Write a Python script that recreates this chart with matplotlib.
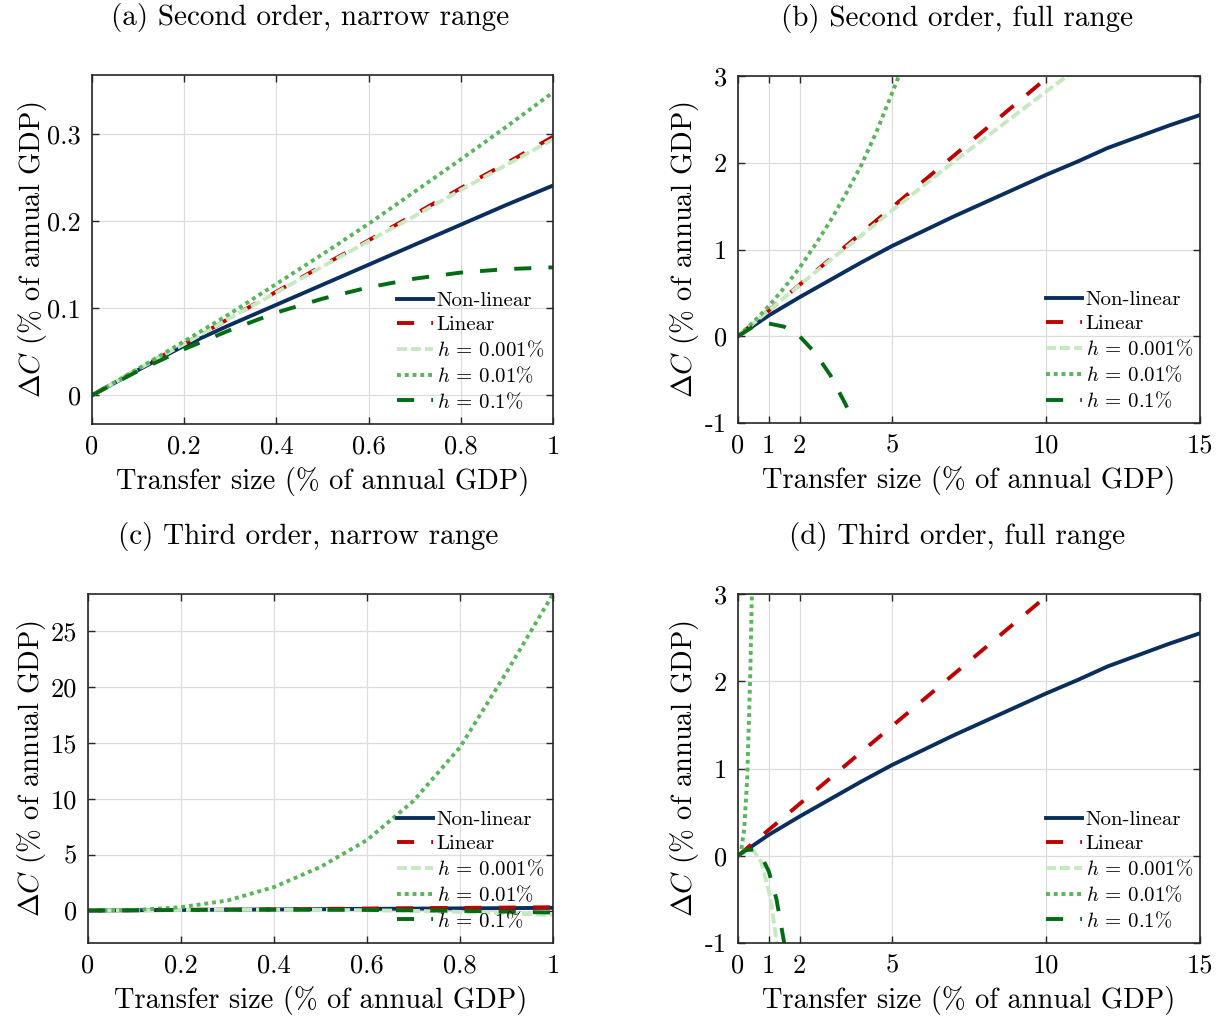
import matplotlib
matplotlib.use("Agg")
import matplotlib.pyplot as plt

plt.rcParams['font.family'] = 'serif'
plt.rcParams['font.serif'] = ['cmr10']
plt.rcParams['mathtext.fontset'] = 'cm'
plt.rcParams['axes.unicode_minus'] = False
plt.rcParams['axes.formatter.use_mathtext'] = True

# transfer grids (% of annual GDP)
x_narrow = [0, 0.1, 0.2, 0.3, 0.4, 0.5, 0.6, 0.7, 0.8, 0.9, 1.0]
x_full = [0, 1, 2, 3, 4, 5, 6, 7, 8, 9, 10, 11, 12, 13, 14, 15]

# exact (non-linear) and linear responses, shared by both orders
nonlin_narrow = [0, 0.029, 0.057, 0.081, 0.104, 0.127, 0.150, 0.173, 0.196, 0.219, 0.241]
linear_narrow = [0, 0.030, 0.059, 0.089, 0.119, 0.149, 0.178, 0.208, 0.238, 0.267, 0.297]
nonlin_full = [0, 0.24, 0.45, 0.65, 0.85, 1.04, 1.21, 1.38, 1.54, 1.70, 1.86, 2.01, 2.17, 2.30, 2.43, 2.55]
linear_full = [0, 0.297, 0.594, 0.891, 1.188, 1.485, 1.782, 2.079, 2.376, 2.673, 2.97, 3.267, 3.564, 3.861, 4.158, 4.455]

# second order approximations
so_h001_narrow = [0, 0.030, 0.059, 0.089, 0.118, 0.148, 0.177, 0.206, 0.236, 0.265, 0.294]
so_h01_narrow = [0, 0.0305, 0.062, 0.094, 0.128, 0.162, 0.197, 0.234, 0.271, 0.309, 0.348]
so_h1_narrow = [0, 0.028, 0.053, 0.075, 0.095, 0.111, 0.124, 0.134, 0.141, 0.145, 0.147]

so_h001_full = [0, 0.296, 0.59, 0.88, 1.16, 1.45, 1.73, 2.01, 2.28, 2.55, 2.82, 3.08, 3.34, 3.60, 3.85, 4.10]
x_so_h01_full = [0, 0.5, 1, 1.5, 2, 2.5, 3, 3.5, 4, 4.5, 5, 5.5]
so_h01_full = [0, 0.162, 0.348, 0.558, 0.79, 1.05, 1.33, 1.64, 1.97, 2.36, 2.80, 3.25]
x_so_h1_full = [0, 0.5, 1, 1.5, 2, 2.5, 3, 3.5, 4]
so_h1_full = [0, 0.113, 0.147, 0.11, 0.0, -0.19, -0.45, -0.79, -1.2]

# third order approximations
to_h001_narrow = [0, 0.029, 0.054, 0.071, 0.075, 0.063, 0.029, -0.030, -0.118, -0.240, -0.40]
to_h01_narrow = [0, 0.05, 0.3, 0.9, 2.1, 3.9, 6.3, 9.8, 14.6, 21.3, 28.3]
to_h1_narrow = [0, 0.028, 0.051, 0.068, 0.075, 0.071, 0.055, 0.023, -0.025, -0.092, -0.18]

x_to_h001_full = [0, 0.25, 0.5, 0.75, 1, 1.1, 1.2, 1.3, 1.4]
to_h001_full = [0, 0.064, 0.063, -0.07, -0.40, -0.60, -0.85, -1.15, -1.5]
x_to_h01_full = [0, 0.1, 0.2, 0.3, 0.4, 0.5, 0.6]
to_h01_full = [0, 0.05, 0.3, 0.9, 2.1, 3.9, 6.3]
x_to_h1_full = [0, 0.25, 0.5, 0.75, 1, 1.25, 1.5, 1.6]
to_h1_full = [0, 0.065, 0.071, 0.002, -0.18, -0.50, -1.0, -1.25]

labels = ['Non-linear', 'Linear', r'$h\,=\,0.001\%$', r'$h\,=\,0.01\%$', r'$h\,=\,0.1\%$']
titles = ['(a) Second order, narrow range', '(b) Second order, full range',
          '(c) Third order, narrow range', '(d) Third order, full range']

navy = '#0a2f5f'
red = '#c00000'
light_green = '#c7e9c0'
mid_green = '#58b65b'
dark_green = '#006d12'

LW = 2.8
styles = [
    dict(color=navy, lw=LW, ls='-'),
    dict(color=red, lw=LW, dashes=(4.4, 4.4)),
    dict(color=light_green, lw=LW, dashes=(2.6, 1.0)),
    dict(color=mid_green, lw=LW, dashes=(1.0, 1.0)),
    dict(color=dark_green, lw=LW, dashes=(4.4, 4.4)),
]

W, H = 1222, 1019
fig = plt.figure(figsize=(W / 100, H / 100), dpi=100)


def rect(l, t, r, b):
    return [l / W, 1 - b / H, (r - l) / W, (b - t) / H]


panels = [
    dict(box=rect(92, 75, 553, 424),
         series=[(x_narrow, nonlin_narrow), (x_narrow, linear_narrow), (x_narrow, so_h001_narrow),
                 (x_narrow, so_h01_narrow), (x_narrow, so_h1_narrow)],
         xlim=(0, 1), ylim=(-0.033, 0.368),
         xticks=[0, 0.2, 0.4, 0.6, 0.8, 1], xticklabels=['0', '0.2', '0.4', '0.6', '0.8', '1'],
         yticks=[0, 0.1, 0.2, 0.3], yticklabels=['0', '0.1', '0.2', '0.3'],
         ylab_x=-0.128, leg_x=0.662),
    dict(box=rect(738, 76, 1200, 423),
         series=[(x_full, nonlin_full), (x_full, linear_full), (x_full, so_h001_full),
                 (x_so_h01_full, so_h01_full), (x_so_h1_full, so_h1_full)],
         xlim=(0, 15), ylim=(-1, 3),
         xticks=[0, 1, 2, 5, 10, 15], xticklabels=['0', '1', '2', '5', '10', '15'],
         yticks=[-1, 0, 1, 2, 3], yticklabels=['-1', '0', '1', '2', '3'],
         ylab_x=-0.115, leg_x=0.667),
    dict(box=rect(88, 594, 553, 943),
         series=[(x_narrow, nonlin_narrow), (x_narrow, linear_narrow), (x_narrow, to_h001_narrow),
                 (x_narrow, to_h01_narrow), (x_narrow, to_h1_narrow)],
         xlim=(0, 1), ylim=(-2.9, 28.3),
         xticks=[0, 0.2, 0.4, 0.6, 0.8, 1], xticklabels=['0', '0.2', '0.4', '0.6', '0.8', '1'],
         yticks=[0, 5, 10, 15, 20, 25], yticklabels=['0', '5', '10', '15', '20', '25'],
         ylab_x=-0.122, leg_x=0.665),
    dict(box=rect(738, 594, 1200, 943),
         series=[(x_full, nonlin_full), (x_full, linear_full), (x_to_h001_full, to_h001_full),
                 (x_to_h01_full, to_h01_full), (x_to_h1_full, to_h1_full)],
         xlim=(0, 15), ylim=(-1, 3),
         xticks=[0, 1, 2, 5, 10, 15], xticklabels=['0', '1', '2', '5', '10', '15'],
         yticks=[-1, 0, 1, 2, 3], yticklabels=['-1', '0', '1', '2', '3'],
         ylab_x=-0.115, leg_x=0.667),
]

for p, title in zip(panels, titles):
    ax = fig.add_axes(p['box'])
    for (xs, ys), lab, st in zip(p['series'], labels, styles):
        ax.plot(xs, ys, label=lab, **st)

    ax.set_xlim(*p['xlim'])
    ax.set_ylim(*p['ylim'])
    ax.set_xticks(p['xticks'], p['xticklabels'])
    ax.set_yticks(p['yticks'], p['yticklabels'])
    ax.grid(True, color='#dddddd', lw=0.9)
    ax.set_axisbelow(True)
    ax.tick_params(direction='in', top=True, right=True, length=5, width=1.0,
                   color='#262626', labelsize=19, pad=8)
    for sp in ax.spines.values():
        sp.set_color('#262626')
        sp.set_linewidth(1.2)

    ax.set_xlabel('Transfer size (% of annual GDP)', fontsize=20.5)
    ax.xaxis.set_label_coords(0.5, -0.166)
    ax.xaxis.label.set_va('center')
    ax.set_ylabel(r'$\Delta C$ (% of annual GDP)', fontsize=20.5)
    ax.yaxis.set_label_coords(p['ylab_x'], 0.5)
    ax.yaxis.label.set_va('center')
    ax.set_title(title, fontsize=21, x=0.474, y=1.166, va='center', pad=0)

    ax.legend(loc='lower left', bbox_to_anchor=(p['leg_x'], 0.035), frameon=False,
              fontsize=15, handlelength=1.7, handletextpad=0.2, labelspacing=0.26,
              borderpad=0, borderaxespad=0)

fig.savefig('out.png', dpi=100)
